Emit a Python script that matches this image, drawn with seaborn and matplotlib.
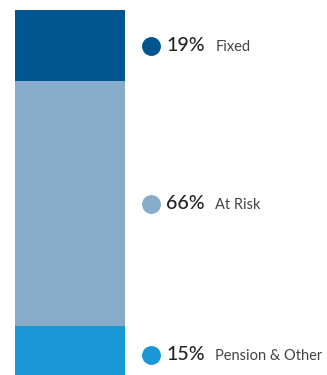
import matplotlib
matplotlib.use('Agg')
import matplotlib.pyplot as plt
import matplotlib.transforms as mtransforms
import seaborn as sns

# data, top to bottom
labels = ['Fixed', 'At Risk', 'Pension & Other']
shares = [19, 66, 15]
# segment heights as drawn in the picture (% of bar)
seg_heights = [19.5, 67.1, 13.4]
colors = ['#005591', '#87acca', '#1a98d5']

sns.set_style('white')
plt.rcParams['font.family'] = ['Lato', 'DejaVu Sans']

fig = plt.figure(figsize=(3.27, 3.75), dpi=100)
ax = fig.add_axes([0, 0, 1, 1])

# stacked bar: draw cumulative totals from the top segment down
tops = []
cum = 0
for h in reversed(seg_heights):
    cum += h
    tops.append(cum)
tops = tops[::-1]
for top, c in zip(tops, colors):
    sns.barplot(x=['pay'], y=[top], color=c, width=0.8, saturation=1,
                linewidth=0, ax=ax)

# 137.5 px per category unit -> bar 110 px wide, starting 15 px in
ax.set_xlim(-0.4 - 15 / 137.5, -0.4 + 312 / 137.5)
ax.set_ylim(0, 100 * 375 / 365)
ax.axis('off')

# labels to the right of each segment
tr = mtransforms.blended_transform_factory(ax.transAxes, ax.transData)
label_y = [top - h / 2 for top, h in zip(tops, seg_heights)]
label_y[-1] -= 1.2
for y, s, lab, c in zip(label_y, shares, labels, colors):
    ax.scatter([0.462], [y], s=185, color=c, transform=tr, linewidths=0)
    ax.text(0.508, y, f'{s}%', transform=tr, va='center', ha='left',
            fontsize=14, color='#222222', fontweight='medium')
    ax.text(0.658, y - 0.4, lab, transform=tr, va='center', ha='left',
            fontsize=10.5, color='#444444')

fig.savefig('out.png', dpi=100)
